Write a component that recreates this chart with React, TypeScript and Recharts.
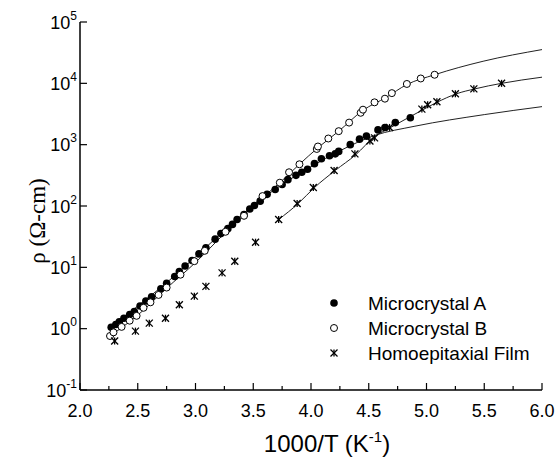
import React from "react"
import { ComposedChart, Legend, Line, Scatter, XAxis, YAxis } from "recharts"

// axis ticks
const xTicks = [2, 2.25, 2.5, 2.75, 3, 3.25, 3.5, 3.75, 4, 4.25, 4.5, 4.75, 5, 5.25, 5.5, 5.75, 6]
const yTicks = [0.1, 1, 10, 100, 1000, 10000, 100000]
const yExponents = ["-1", "0", "1", "2", "3", "4", "5"]
const seriesNames = ["Microcrystal A", "Microcrystal B", "Homoepitaxial Film"]

// Microcrystal A (filled circles)
const aX = [2.27, 2.31, 2.34, 2.38, 2.43, 2.47, 2.52, 2.57, 2.62, 2.7, 2.75, 2.82, 2.86, 2.91, 2.97, 3.03, 3.09, 3.17, 3.22, 3.28, 3.32, 3.36, 3.42, 3.47, 3.51, 3.56, 3.62, 3.69, 3.75, 3.8, 3.87, 3.92, 3.97, 4.03, 4.09, 4.16, 4.21, 4.24, 4.34, 4.42, 4.48, 4.58, 4.64, 4.73, 4.86]
const aRho = [1.05, 1.17, 1.29, 1.48, 1.7, 1.91, 2.34, 2.82, 3.31, 4.47, 5.5, 7.08, 8.51, 10.5, 12.9, 16.6, 20.9, 28.8, 35.5, 42.7, 50.1, 60.3, 72.4, 89.1, 102, 120, 155, 186, 224, 269, 316, 355, 398, 490, 589, 661, 708, 776, 1000, 1230, 1380, 1740, 1910, 2290, 2750]

// Microcrystal B (open circles)
const bX = [2.26, 2.29, 2.36, 2.43, 2.49, 2.55, 2.61, 2.68, 2.75, 2.87, 2.99, 3.08, 3.26, 3.42, 3.58, 3.73, 3.81, 3.9, 4.05, 4.06, 4.15, 4.24, 4.33, 4.43, 4.45, 4.55, 4.64, 4.7, 4.83, 4.95, 5.07]
const bRho = [0.759, 0.871, 1.07, 1.35, 1.62, 2.19, 2.69, 3.55, 4.68, 7.59, 12.6, 18.6, 38, 69.2, 145, 240, 355, 479, 851, 933, 1260, 1660, 2290, 3310, 3720, 4900, 5620, 6920, 9770, 12000, 13800]

// Homoepitaxial film (asterisks)
const filmX = [2.3, 2.48, 2.6, 2.74, 2.86, 2.99, 3.09, 3.23, 3.34, 3.52, 3.72, 3.88, 4.02, 4.2, 4.38, 4.51, 4.55, 4.68, 4.96, 5.01, 5.09, 5.25, 5.41, 5.65]
const filmRho = [0.631, 0.912, 1.23, 1.48, 2.45, 3.39, 4.9, 8.13, 12.6, 25.7, 60.3, 110, 200, 380, 708, 1150, 1290, 1910, 3800, 4470, 5010, 6760, 8130, 10000]

// fitted curves
const fitAX = [2.27, 2.5, 2.75, 3, 3.25, 3.5, 3.75, 4, 4.25, 4.55, 4.9, 5.5, 6]
const fitARho = [1.05, 2.34, 5.62, 14.8, 39.8, 102, 224, 437, 794, 1410, 2000, 3090, 4170]
const fitBX = [2.26, 2.5, 2.75, 3, 3.25, 3.5, 3.73, 3.9, 4.06, 4.24, 4.45, 4.65, 4.83, 5.07, 5.49, 6]
const fitBRho = [0.759, 1.66, 4.57, 12, 35.5, 100, 240, 479, 891, 1660, 3630, 5890, 9550, 13800, 22900, 35500]
const fitFilmX = [3.72, 3.89, 4.03, 4.21, 4.39, 4.55, 4.68, 4.97, 5.09, 5.26, 5.42, 5.65, 6]
const fitFilmRho = [60.3, 110, 200, 380, 692, 1350, 1860, 3720, 4900, 6760, 8130, 10000, 12600]

const toPoints = (xs: number[], ys: number[]) => xs.map((x, i) => ({ x, y: ys[i] }))

const FONT = "'Liberation Sans', Arial, sans-serif"

const isMajor = (v: number) => Math.abs(v * 2 - Math.round(v * 2)) < 1e-6

const BottomTick = (props: any) => {
  const { x, y, payload } = props
  const major = isMajor(payload.value)
  return (
    <g>
      <line x1={x} x2={x} y1={y} y2={y - (major ? 7 : 4)} stroke="#000" strokeWidth={1.2} />
      {major && (
        <text x={x} y={y + 27} textAnchor="middle" fontSize={18} fontFamily={FONT} fill="#000">
          {payload.value.toFixed(1)}
        </text>
      )}
    </g>
  )
}

const TopTick = (props: any) => {
  const { x, y, payload } = props
  const major = isMajor(payload.value)
  return <line x1={x} x2={x} y1={y} y2={y + (major ? 7 : 4)} stroke="#000" strokeWidth={1.2} />
}

const LeftTick = (props: any) => {
  const { x, y, index } = props
  return (
    <g>
      <line x1={x} x2={x + 7} y1={y} y2={y} stroke="#000" strokeWidth={1.2} />
      <text x={x - 3} y={y + 6.5} textAnchor="end" fontSize={18} fontFamily={FONT} fill="#000">
        10
        <tspan dy={-9} fontSize={12}>{yExponents[index]}</tspan>
      </text>
    </g>
  )
}

const XTitle = () => (
  <text x={327} y={452} textAnchor="middle" fontSize={24} fontFamily={FONT} fill="#000">
    1000/T (K<tspan dy={-10} fontSize={15}>-1</tspan><tspan dy={10}>)</tspan>
  </text>
)

const YTitle = () => {
  const cx = 37
  const cy = 221
  return (
    <text x={cx} y={cy} transform={`rotate(-90, ${cx}, ${cy})`} textAnchor="middle" dominantBaseline="central"
      fontSize={23} fontFamily="'Liberation Serif', 'Times New Roman', serif" fill="#000">
      ρ (Ω-cm)
    </text>
  )
}

const FilledDot = (p: any) => <circle cx={p.cx} cy={p.cy} r={3.8} fill="#000" />
const OpenDot = (p: any) => <circle cx={p.cx} cy={p.cy} r={3.5} fill="#fff" stroke="#000" strokeWidth={1} />
const Star = (p: any) => {
  const r = 3.5
  const { cx, cy } = p
  return (
    <g stroke="#000" strokeWidth={1.3}>
      <line x1={cx - r} y1={cy - r} x2={cx + r} y2={cy + r} />
      <line x1={cx - r} y1={cy + r} x2={cx + r} y2={cy - r} />
      <line x1={cx} y1={cy - r} x2={cx} y2={cy + r} />
    </g>
  )
}

const markers = [FilledDot, OpenDot, Star]

const LegendBox = () => (
  <svg width={230} height={80}>
    {seriesNames.map((name, i) => {
      const M = markers[i]
      const cy = 13 + i * 25
      return (
        <g key={name}>
          <M cx={16} cy={cy} />
          <text x={50} y={cy + 7} fontSize={19} fontFamily={FONT} fill="#000">{name}</text>
        </g>
      )
    })}
  </svg>
)

export default function App() {
  return (
    <div style={{ position: "absolute", left: 0, top: 0, width: 560, height: 457, background: "#fff" }}>
      <ComposedChart width={560} height={457} margin={{ top: 22, right: 18, bottom: 0, left: 0 }}>
        <XAxis xAxisId="bottom" dataKey="x" type="number" domain={[2, 6]} ticks={xTicks} interval={0}
          allowDataOverflow tickSize={0} tickMargin={0} tickLine={false} tick={<BottomTick />} height={67}
          axisLine={{ stroke: "#000", strokeWidth: 1.5 }} label={<XTitle />} />
        <XAxis xAxisId="top" orientation="top" dataKey="x" type="number" domain={[2, 6]} ticks={xTicks} interval={0}
          allowDataOverflow tickSize={0} tickMargin={0} tickLine={false} tick={<TopTick />} height={0}
          axisLine={{ stroke: "#000", strokeWidth: 1.5 }} />
        <YAxis yAxisId="left" dataKey="y" type="number" scale="log" domain={[0.1, 100000]} ticks={yTicks} interval={0}
          allowDataOverflow tickSize={0} tickMargin={0} tickLine={false} tick={<LeftTick />} width={80}
          axisLine={{ stroke: "#000", strokeWidth: 1.5 }} label={<YTitle />} />
        <YAxis yAxisId="right" orientation="right" type="number" scale="log" domain={[0.1, 100000]}
          allowDataOverflow tick={false} tickLine={false} width={0} axisLine={{ stroke: "#000", strokeWidth: 1.5 }} />
        <Line xAxisId="bottom" yAxisId="left" data={toPoints(fitAX, fitARho)} dataKey="y" type="monotone" dot={false}
          stroke="#222" strokeWidth={1} legendType="none" isAnimationActive={false} />
        <Line xAxisId="bottom" yAxisId="left" data={toPoints(fitBX, fitBRho)} dataKey="y" type="monotone" dot={false}
          stroke="#222" strokeWidth={1} legendType="none" isAnimationActive={false} />
        <Line xAxisId="bottom" yAxisId="left" data={toPoints(fitFilmX, fitFilmRho)} dataKey="y" type="monotone" dot={false}
          stroke="#222" strokeWidth={1} legendType="none" isAnimationActive={false} />
        <Scatter xAxisId="bottom" yAxisId="left" name={seriesNames[0]} data={toPoints(aX, aRho)} shape={FilledDot}
          isAnimationActive={false} />
        <Scatter xAxisId="bottom" yAxisId="left" name={seriesNames[1]} data={toPoints(bX, bRho)} shape={OpenDot}
          isAnimationActive={false} />
        <Scatter xAxisId="bottom" yAxisId="left" name={seriesNames[2]} data={toPoints(filmX, filmRho)} shape={Star}
          isAnimationActive={false} />
        <Legend layout="vertical" align="center" verticalAlign="middle" content={<LegendBox />}
          wrapperStyle={{ left: 318, top: 290, width: 230 }} />
      </ComposedChart>
    </div>
  )
}
